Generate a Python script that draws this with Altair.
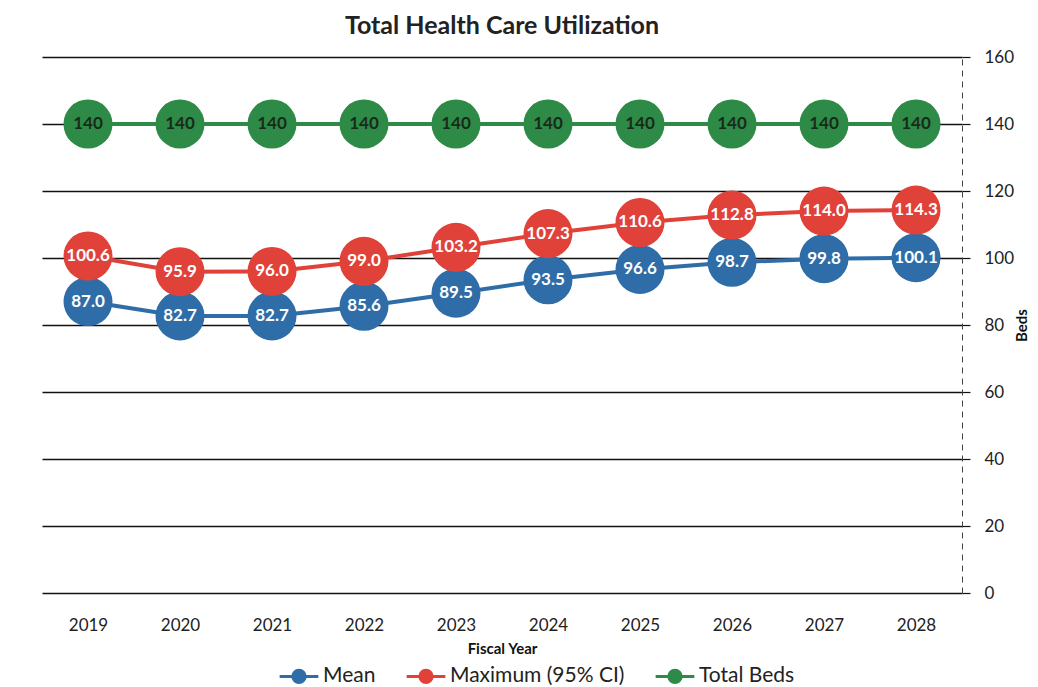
import altair as alt
import pandas as pd

years = [2019, 2020, 2021, 2022, 2023, 2024, 2025, 2026, 2027, 2028]
mean = [87.0, 82.7, 82.7, 85.6, 89.5, 93.5, 96.6, 98.7, 99.8, 100.1]
maximum = [100.6, 95.9, 96.0, 99.0, 103.2, 107.3, 110.6, 112.8, 114.0, 114.3]
beds = [140, 140, 140, 140, 140, 140, 140, 140, 140, 140]
y_ticks = [0, 20, 40, 60, 80, 100, 120, 140, 160]

series_names = ["Mean", "Maximum (95% CI)", "Total Beds"]
colors = ["#2e6da8", "#e0423a", "#2e8b47"]

rows = []
for i, (name, vals, fmt) in enumerate(
    [(series_names[0], mean, "{:.1f}"), (series_names[1], maximum, "{:.1f}"), (series_names[2], beds, "{:.0f}")]
):
    for yr, v in zip(years, vals):
        rows.append({"year": str(yr), "value": v, "series": name, "label": fmt.format(v), "ord": i})
df = pd.DataFrame(rows)

FONT = "Lato"

x = alt.X(
    "year:O",
    scale=alt.Scale(type="point", padding=0.5),
    axis=alt.Axis(
        title="Fiscal Year", labelAngle=0, ticks=False, domain=False,
        labelFontSize=17, labelColor="#222", labelPadding=24, labelFont=FONT,
        titleFontSize=15, titleFontWeight="bold", titleFont=FONT, titleColor="#111", titlePadding=8,
    ),
)
y = alt.Y(
    "value:Q",
    scale=alt.Scale(domain=[0, 160], nice=False),
    axis=alt.Axis(
        orient="right", values=y_ticks, title="Beds", titleAngle=270,
        grid=True, gridColor="#111", gridWidth=1.5,
        tickColor="#111", tickSize=8, tickWidth=1.2,
        domain=True, domainColor="#444", domainDash=[6, 5], domainWidth=1,
        labelFontSize=17, labelColor="#222", labelFont=FONT, labelPadding=14,
        titleFontSize=15, titleFontWeight="bold", titleFont=FONT, titleColor="#111", titlePadding=16,
    ),
)

# line with a filled dot (concentric rings) in the middle
legend_path = ("M-1,0H1"
               "M0.32,0A0.32,0.32,0,1,1,-0.32,0A0.32,0.32,0,1,1,0.32,0"
               "M0.22,0A0.22,0.22,0,1,1,-0.22,0A0.22,0.22,0,1,1,0.22,0"
               "M0.12,0A0.12,0.12,0,1,1,-0.12,0A0.12,0.12,0,1,1,0.12,0"
               "M0.04,0A0.04,0.04,0,1,1,-0.04,0A0.04,0.04,0,1,1,0.04,0")
leg = alt.Legend(
    title=None, orient="none", direction="horizontal", legendX=236, legendY=598,
    symbolType=legend_path, symbolSize=1500, symbolStrokeWidth=3, labelLimit=400,
    labelFontSize=21, labelFont=FONT, labelColor="#222", columnPadding=24, labelOffset=3,
)

base = alt.Chart(df)
lines = base.mark_line(strokeWidth=4).encode(
    x=x, y=y,
    color=alt.Color("series:N", scale=alt.Scale(domain=series_names, range=colors), legend=leg),
    detail="series:N",
)
points = base.mark_point(filled=True, size=2400, opacity=1, strokeWidth=0).encode(
    x=x, y=y,
    fill=alt.Fill("series:N", scale=alt.Scale(domain=series_names, range=colors), legend=None),
    order=alt.Order("ord:Q"),
)
text_white = base.transform_filter(alt.datum.series != "Total Beds").mark_text(
    fontSize=17, fontWeight="bold", font=FONT, color="white"
).encode(x=x, y=y, text="label:N")
text_dark = base.transform_filter(alt.datum.series == "Total Beds").mark_text(
    fontSize=17, fontWeight="bold", font=FONT, color="#1a2a1a"
).encode(x=x, y=y, text="label:N")

chart = alt.layer(lines, points, text_white, text_dark).properties(
    width=920, height=536,
    padding={"left": 34, "top": 6, "right": 0, "bottom": 0},
    title=alt.Title("Total Health Care Utilization", fontSize=25, fontWeight="bold",
                    font=FONT, color="#222", anchor="middle", offset=9),
).configure(background="white", view=alt.ViewConfig(stroke="transparent", strokeWidth=0))

chart.save("out.html", embed_options={"renderer": "svg", "actions": False})
